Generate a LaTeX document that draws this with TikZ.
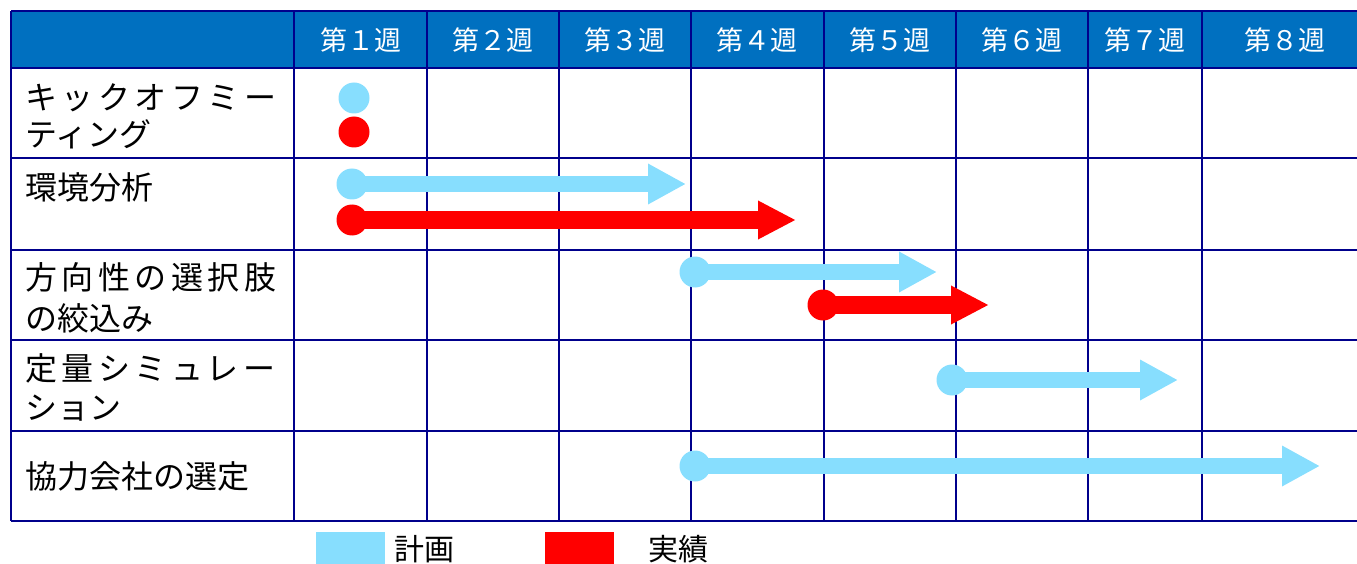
\documentclass[tikz,border=0pt]{standalone}
\usepackage{fontspec}
\setmainfont{Noto Sans CJK JP}
\usetikzlibrary{arrows.meta}
\definecolor{plan}{RGB}{135,222,254}
\definecolor{actual}{RGB}{255,0,0}
\definecolor{gridc}{RGB}{0,0,140}
\definecolor{headc}{RGB}{0,112,192}
\tikzset{
  gridline/.style={draw=gridc, line width=2.6pt},
  headtxt/.style={text=white, font=\fontsize{27}{30}\selectfont, inner sep=0pt},
  rowtxt/.style={text=black, font=\fontsize{32}{36}\selectfont, inner sep=0pt, anchor=west},
  dotp/.style={circle, fill=plan, minimum size=31pt, inner sep=0pt},
  dota/.style={circle, fill=actual, minimum size=31pt, inner sep=0pt},
  barp/.style={draw=plan, line width=16pt, -{Triangle[length=38pt,width=38pt]}},
  bara/.style={draw=actual, line width=18pt, -{Triangle[length=38pt,width=36pt]}},
  legbox/.style={minimum width=69pt, minimum height=34pt, inner sep=0pt, anchor=north west},
  legtxt/.style={text=black, font=\fontsize{30}{32}\selectfont, inner sep=0pt}
}
\newcommand{\spaced}[1]{{\addfontfeature{LetterSpace=14}#1}}
\begin{document}
\begin{tikzpicture}[x=1pt,y=-1pt]
\useasboundingbox (0,0) rectangle (1357,564);
% header fill
\fill[headc] (11,11) rectangle (1357,68);
% grid
\foreach \yy in {11,68,158,250,340,431,521}
  \draw[gridline] (11,\yy) -- (1357,\yy);
\foreach \xx in {11,294,427,559,691,824,956,1088,1202}
  \draw[gridline] (\xx,11) -- (\xx,521);
% header texts
\node[headtxt] (w1) at (361,40) {第１週};
\node[headtxt] (w2) at (493,40) {第２週};
\node[headtxt] (w3) at (625,40) {第３週};
\node[headtxt] (w4) at (757,40) {第４週};
\node[headtxt] (w5) at (890,40) {第５週};
\node[headtxt] (w6) at (1022,40) {第６週};
\node[headtxt] (w7) at (1145,40) {第７週};
\node[headtxt] (w8) at (1285,40) {第８週};
% row labels
\node[rowtxt] (r1a) at (25,98) {\spaced{キックオフミー}};
\node[rowtxt] (r1b) at (25,134) {ティング};
\node[rowtxt] (r2a) at (25,187) {環境分析};
\node[rowtxt] (r3a) at (25,277) {\spaced{方向性の選択肢}};
\node[rowtxt] (r3b) at (25,318) {の絞込み};
\node[rowtxt] (r4a) at (25,368) {\spaced{定量シミュレー}};
\node[rowtxt] (r4b) at (25,408) {ション};
\node[rowtxt] (r5a) at (25,476) {協力会社の選定};
% kickoff
\node[dotp] (k1) at (354,98) {};
\node[dota] (k2) at (354,132) {};
% environment analysis
\coordinate (e1t) at (686,184);
\coordinate (e2t) at (796,220);
\draw[barp] (352,184) -- (e1t);
\draw[bara] (352,220) -- (e2t);
\node[dotp] (e1) at (352,184) {};
\node[dota] (e2) at (352,220) {};
% direction
\coordinate (d1t) at (937,272);
\coordinate (d2t) at (989,305);
\draw[barp] (695,272) -- (d1t);
\draw[bara] (823,305) -- (d2t);
\node[dotp] (d1) at (695,272) {};
\node[dota] (d2) at (823,305) {};
% quantitative simulation
\coordinate (q1t) at (1178,380);
\draw[barp] (952,380) -- (q1t);
\node[dotp] (q1) at (952,380) {};
% partner selection
\coordinate (s1t) at (1320,466);
\draw[barp] (695,466) -- (s1t);
\node[dotp] (s1) at (695,466) {};
% legend
\node[legbox, fill=plan] (lp) at (316,532) {};
\node[legtxt, anchor=west] (lpt) at (394,549) {計画};
\node[legbox, fill=actual] (la) at (545,532) {};
\node[legtxt, anchor=west] (lat) at (648,549) {実績};
\end{tikzpicture}
\end{document}
